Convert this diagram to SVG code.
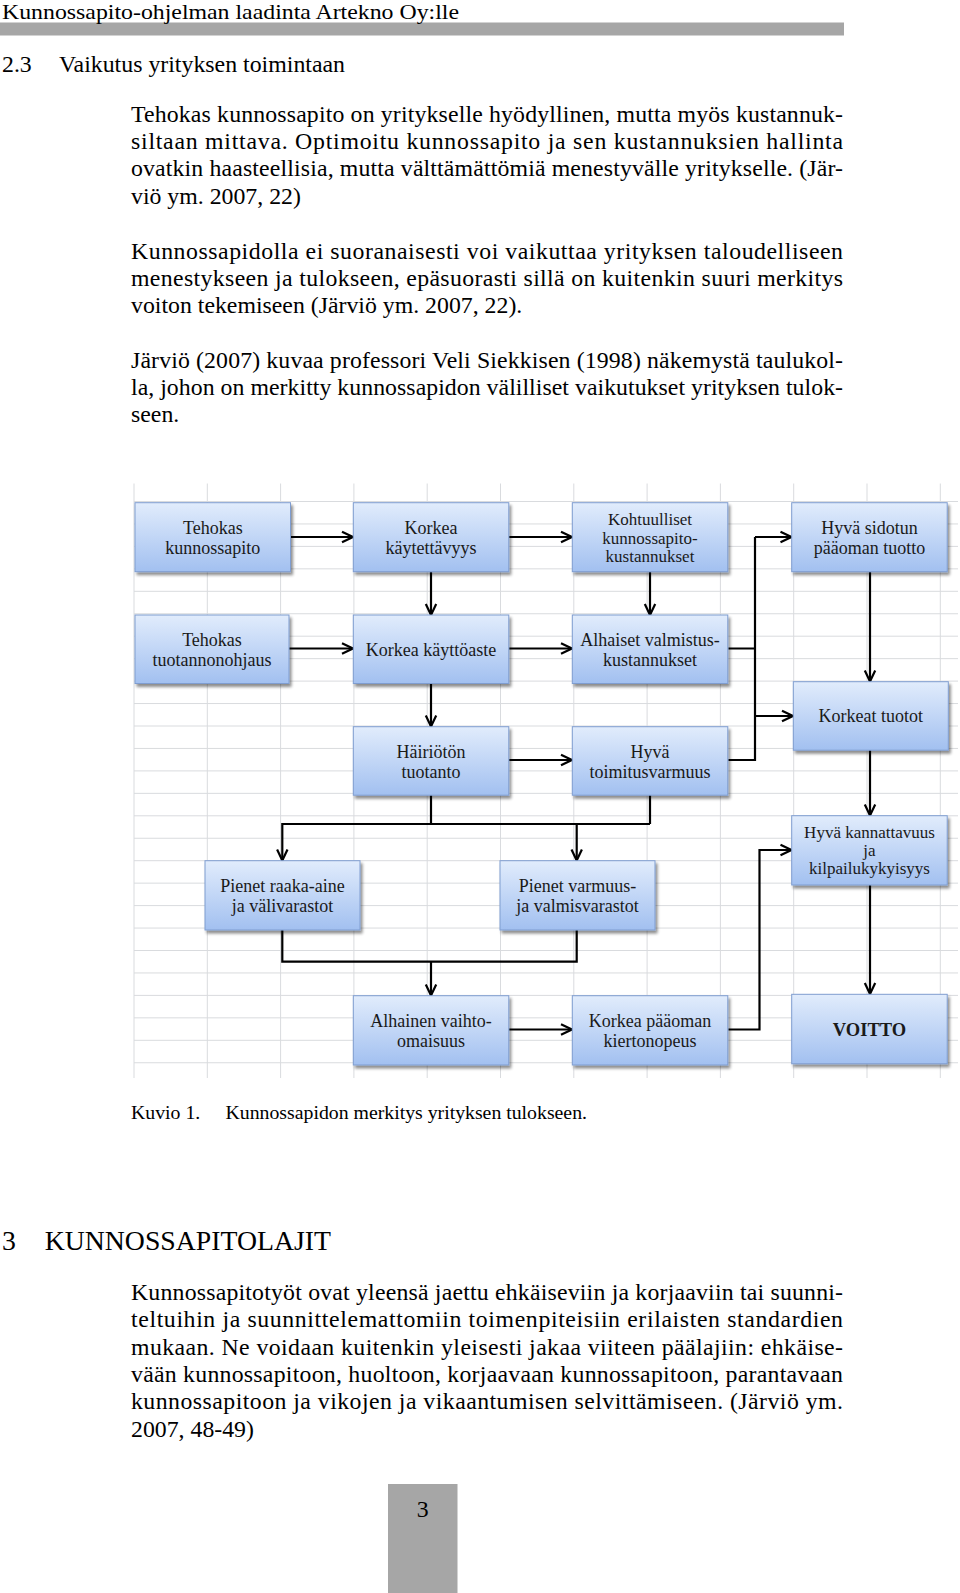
<svg xmlns="http://www.w3.org/2000/svg" width="960" height="1593" viewBox="0 0 960 1593">
<style>
.t{font-family:"Liberation Serif","Times New Roman",serif;font-size:23.8px;fill:#000}
.cap{font-family:"Liberation Serif","Times New Roman",serif;font-size:19.8px;fill:#000}
.h1{font-family:"Liberation Serif","Times New Roman",serif;font-size:27.8px;fill:#000}
.bx{fill:url(#bg);stroke:#7f9dd0;stroke-width:1;filter:url(#sh)}
.bt{font-family:"Liberation Serif","Times New Roman",serif;font-size:18px;fill:#1a1a1a;text-anchor:middle}
.bs{font-size:17px}
.grid{stroke:#d9dbde;stroke-width:1;fill:none}
.c{fill:none;stroke:#000;stroke-width:2.2}
.a{marker-end:url(#ar)}
</style>
<defs>
<linearGradient id="bg" x1="0" y1="0" x2="0" y2="1">
<stop offset="0" stop-color="#e1ecfc"/>
<stop offset="1" stop-color="#a2c0f0"/>
</linearGradient>
<filter id="sh" x="-10%" y="-10%" width="125%" height="135%">
<feGaussianBlur in="SourceAlpha" stdDeviation="1.5"/>
<feOffset dx="1.5" dy="2.5" result="b"/>
<feComponentTransfer><feFuncA type="linear" slope="0.45"/></feComponentTransfer>
<feMerge><feMergeNode/><feMergeNode in="SourceGraphic"/></feMerge>
</filter>
<marker id="ar" markerUnits="userSpaceOnUse" markerWidth="16" markerHeight="16" refX="12" refY="6" orient="auto" viewBox="0 0 16 12">
<path d="M1,0.8 L12,6 L1,11.2" fill="none" stroke="#000" stroke-width="2.2"/>
</marker>
</defs>

<g id="page">
<rect x="0" y="22.5" width="844" height="13" fill="#a6a6a6"/>
<text class="t" x="2" y="18.6" style="font-size:21px" textLength="457" lengthAdjust="spacingAndGlyphs">Kunnossapito-ohjelman laadinta Artekno Oy:lle</text>
<text class="t" x="2" y="71.5">2.3</text>
<text class="t" x="59" y="71.5" textLength="286" lengthAdjust="spacingAndGlyphs">Vaikutus yrityksen toimintaan</text>

<text class="t" x="131" y="121.5" textLength="712" lengthAdjust="spacing">Tehokas kunnossapito on yritykselle hyödyllinen, mutta myös kustannuk-</text>
<text class="t" x="131" y="148.9" textLength="712" lengthAdjust="spacing">siltaan mittava. Optimoitu kunnossapito ja sen kustannuksien hallinta</text>
<text class="t" x="131" y="176.3" textLength="712" lengthAdjust="spacing">ovatkin haasteellisia, mutta välttämättömiä menestyvälle yritykselle. (Jär-</text>
<text class="t" x="131" y="203.7">viö ym. 2007, 22)</text>

<text class="t" x="131" y="258.5" textLength="712" lengthAdjust="spacing">Kunnossapidolla ei suoranaisesti voi vaikuttaa yrityksen taloudelliseen</text>
<text class="t" x="131" y="285.9" textLength="712" lengthAdjust="spacing">menestykseen ja tulokseen, epäsuorasti sillä on kuitenkin suuri merkitys</text>
<text class="t" x="131" y="313.3">voiton tekemiseen (Järviö ym. 2007, 22).</text>

<text class="t" x="131" y="367.5" textLength="712" lengthAdjust="spacing">Järviö (2007) kuvaa professori Veli Siekkisen (1998) näkemystä taulukol-</text>
<text class="t" x="131" y="394.9" textLength="712" lengthAdjust="spacing">la, johon on merkitty kunnossapidon välilliset vaikutukset yrityksen tulok-</text>
<text class="t" x="131" y="422.3">seen.</text>

<text class="cap" x="131" y="1119">Kuvio 1.</text>
<text class="cap" x="225.5" y="1119" textLength="361.5" lengthAdjust="spacingAndGlyphs">Kunnossapidon merkitys yrityksen tulokseen.</text>

<text class="h1" x="2" y="1249.6">3</text>
<text class="h1" x="44.7" y="1249.6" textLength="286.3" lengthAdjust="spacingAndGlyphs">KUNNOSSAPITOLAJIT</text>

<text class="t" x="131" y="1299.7" textLength="712" lengthAdjust="spacing">Kunnossapitotyöt ovat yleensä jaettu ehkäiseviin ja korjaaviin tai suunni-</text>
<text class="t" x="131" y="1327.1" textLength="712" lengthAdjust="spacing">teltuihin ja suunnittelemattomiin toimenpiteisiin erilaisten standardien</text>
<text class="t" x="131" y="1354.5" textLength="712" lengthAdjust="spacing">mukaan. Ne voidaan kuitenkin yleisesti jakaa viiteen päälajiin: ehkäise-</text>
<text class="t" x="131" y="1381.9" textLength="712" lengthAdjust="spacing">vään kunnossapitoon, huoltoon, korjaavaan kunnossapitoon, parantavaan</text>
<text class="t" x="131" y="1409.3" textLength="712" lengthAdjust="spacing">kunnossapitoon ja vikojen ja vikaantumisen selvittämiseen. (Järviö ym.</text>
<text class="t" x="131" y="1436.7">2007, 48-49)</text>

<rect x="388" y="1484" width="69.5" height="109" fill="#a6a6a6"/>
<text class="t" x="422.7" y="1516.5" text-anchor="middle">3</text>
</g>

<g id="grid">
<path class="grid" d="M134,483.5V1078M207.3,483.5V1078M280.6,483.5V1078M353.9,483.5V1078M427.2,483.5V1078M500.5,483.5V1078M573.8,483.5V1078M647.1,483.5V1078M720.4,483.5V1078M793.7,483.5V1078M867,483.5V1078M940.3,483.5V1078"/>
<path class="grid" d="M134,501.5H958M134,523.95H958M134,546.4H958M134,568.85H958M134,591.3H958M134,613.75H958M134,636.2H958M134,658.65H958M134,681.1H958M134,703.55H958M134,726H958M134,748.45H958M134,770.9H958M134,793.35H958M134,815.8H958M134,838.25H958M134,860.7H958M134,883.15H958M134,905.6H958M134,928.05H958M134,950.5H958M134,972.95H958M134,995.4H958M134,1017.85H958M134,1040.3H958M134,1062.75H958"/>
</g>

<g id="connectors">
<path class="c a" d="M290.5,537H353"/>
<path class="c a" d="M509,537H572"/>
<path class="c a" d="M431,572V615"/>
<path class="c a" d="M650,572V615"/>
<path class="c a" d="M289,648.5H353"/>
<path class="c a" d="M509,648.5H572"/>
<path class="c a" d="M431,683.5V726.5"/>
<path class="c a" d="M509,760H572"/>
<path class="c" d="M728.3,648.5H755M728.3,760H755V537"/>
<path class="c a" d="M755,537H791.5"/>
<path class="c a" d="M755,716H793"/>
<path class="c a" d="M870,572V681.5"/>
<path class="c a" d="M870,750V815.5"/>
<path class="c a" d="M870,885V994"/>
<path class="c" d="M431,795V824M650,795V824M282.3,824H650"/>
<path class="c a" d="M282.3,823V860.5"/>
<path class="c a" d="M576.7,824V860.5"/>
<path class="c" d="M282.3,930V961.7H576.7V930"/>
<path class="c a" d="M431,961.7V995.5"/>
<path class="c a" d="M508.5,1029.5H572"/>
<path class="c a" d="M728.3,1029.5H759.5V850H791.5"/>
</g>

<g id="n1"><rect class="bx" x="135" y="502.7" width="155.5" height="69"/>
<text class="bt" x="212.8" y="533.5">Tehokas</text><text class="bt" x="212.8" y="554">kunnossapito</text></g>
<g id="n2"><rect class="bx" x="353.3" y="502.7" width="155.5" height="69"/>
<text class="bt" x="431" y="533.5">Korkea</text><text class="bt" x="431" y="554">käytettävyys</text></g>
<g id="n3"><rect class="bx" x="572.3" y="502.7" width="155.5" height="69"/>
<text class="bt bs" x="650" y="525">Kohtuulliset</text><text class="bt bs" x="650" y="543.5">kunnossapito-</text><text class="bt bs" x="650" y="561.8">kustannukset</text></g>
<g id="n4"><rect class="bx" x="791.7" y="502.7" width="155.5" height="69"/>
<text class="bt" x="869.5" y="533.5">Hyvä sidotun</text><text class="bt" x="869.5" y="554">pääoman tuotto</text></g>

<g id="n5"><rect class="bx" x="135" y="615" width="154" height="68.5"/>
<text class="bt" x="212" y="645.5">Tehokas</text><text class="bt" x="212" y="666">tuotannonohjaus</text></g>
<g id="n6"><rect class="bx" x="353.3" y="615" width="155.5" height="68.5"/>
<text class="bt" x="431" y="655.5">Korkea käyttöaste</text></g>
<g id="n7"><rect class="bx" x="572.3" y="615" width="155.5" height="68.5"/>
<text class="bt" x="650" y="645.5">Alhaiset valmistus-</text><text class="bt" x="650" y="666">kustannukset</text></g>

<g id="n8"><rect class="bx" x="793.3" y="681.7" width="155" height="68.5"/>
<text class="bt" x="870.8" y="722">Korkeat tuotot</text></g>

<g id="n9"><rect class="bx" x="353.3" y="726.7" width="155.5" height="68.5"/>
<text class="bt" x="431" y="757.5">Häiriötön</text><text class="bt" x="431" y="778">tuotanto</text></g>
<g id="n10"><rect class="bx" x="572.3" y="726.7" width="155.5" height="68.5"/>
<text class="bt" x="650" y="757.5">Hyvä</text><text class="bt" x="650" y="778">toimitusvarmuus</text></g>

<g id="n11"><rect class="bx" x="791.7" y="815.7" width="155.5" height="69.3"/>
<text class="bt bs" x="869.5" y="838.3">Hyvä kannattavuus</text><text class="bt bs" x="869.5" y="856.3">ja</text><text class="bt bs" x="869.5" y="874.3">kilpailukykyisyys</text></g>

<g id="n12"><rect class="bx" x="205" y="860.7" width="155" height="69.3"/>
<text class="bt" x="282.5" y="891.5">Pienet raaka-aine</text><text class="bt" x="282.5" y="912">ja välivarastot</text></g>
<g id="n13"><rect class="bx" x="500" y="860.7" width="155" height="69.3"/>
<text class="bt" x="577.5" y="891.5">Pienet varmuus-</text><text class="bt" x="577.5" y="912">ja valmisvarastot</text></g>

<g id="n14"><rect class="bx" x="353.3" y="995.7" width="155.5" height="69.3"/>
<text class="bt" x="431" y="1026.5">Alhainen vaihto-</text><text class="bt" x="431" y="1047">omaisuus</text></g>
<g id="n15"><rect class="bx" x="572.3" y="995.7" width="155.5" height="69.3"/>
<text class="bt" x="650" y="1026.5">Korkea pääoman</text><text class="bt" x="650" y="1047">kiertonopeus</text></g>
<g id="n16"><rect class="bx" x="791.7" y="994.3" width="155.5" height="69.5"/>
<text class="bt" x="869.5" y="1035.5" style="font-weight:bold;font-size:18.5px">VOITTO</text></g>
</svg>
